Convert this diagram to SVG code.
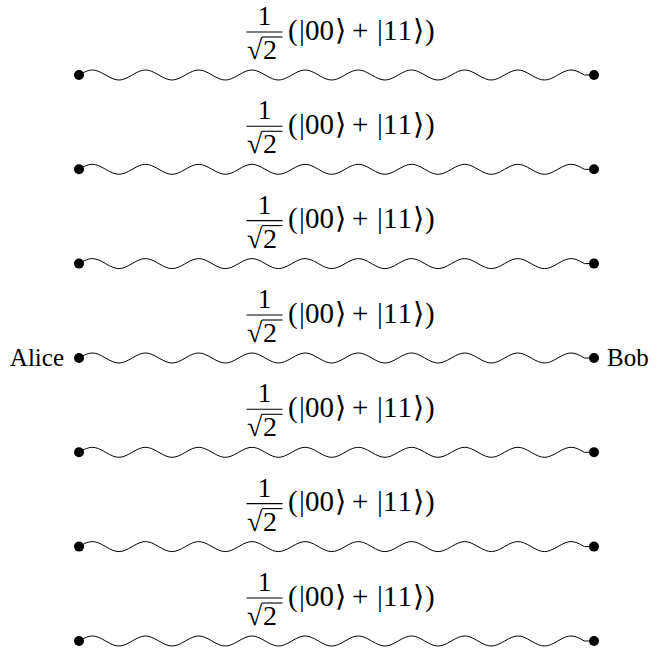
<svg xmlns="http://www.w3.org/2000/svg" xmlns:xlink="http://www.w3.org/1999/xlink" width="657" height="651" viewBox="0 0 657 651">
<style>
  .wave { fill: none; stroke: #000; stroke-width: 1; }
  .dot { fill: #000; stroke: none; }
  .t { font-family: "Liberation Serif", "DejaVu Serif", serif; fill: #000; }
  .m { font-size: 28px; }
  .n { font-size: 27px; }
  .p { font-size: 29px; }
  .name { font-size: 25px; }
  .rule { stroke: #000; stroke-width: 1.1; }
</style>
<defs>
  <path id="wave" class="wave" d="M79,0 c11.29,-6.67 15.31,-6.67 26.6,0 s15.31,6.67 26.6,0 s15.31,-6.67 26.6,0 s15.31,6.67 26.6,0 s15.31,-6.67 26.6,0 s15.31,6.67 26.6,0 s15.31,-6.67 26.6,0 s15.31,6.67 26.6,0 s15.31,-6.67 26.6,0 s15.31,6.67 26.6,0 s15.31,-6.67 26.6,0 s15.31,6.67 26.6,0 s15.31,-6.67 26.6,0 s15.31,6.67 26.6,0 s15.31,-6.67 26.6,0 s15.31,6.67 26.6,0 s15.31,-6.67 26.6,0 s15.31,6.67 26.6,0 s15.31,-6.67 26.6,0 L594,0"/>
</defs>

<g id="connectors">
  <use xlink:href="#wave" href="#wave" transform="translate(0,75)"/>
  <use xlink:href="#wave" href="#wave" transform="translate(0,169.3)"/>
  <use xlink:href="#wave" href="#wave" transform="translate(0,263.6)"/>
  <use xlink:href="#wave" href="#wave" transform="translate(0,358)"/>
  <use xlink:href="#wave" href="#wave" transform="translate(0,452.3)"/>
  <use xlink:href="#wave" href="#wave" transform="translate(0,546.6)"/>
  <use xlink:href="#wave" href="#wave" transform="translate(0,641)"/>

  <g id="label1" transform="translate(0,75)">
    <text class="t n" x="264.5" y="-50" text-anchor="middle">1</text>
    <line class="rule" x1="246.5" y1="-43" x2="282.5" y2="-43"/>
    <text class="t m" x="247" y="-16">√</text>
    <line class="rule" x1="262" y1="-38" x2="282.5" y2="-38"/>
    <text class="t m" x="263" y="-16">2</text>
    <text class="t p" x="288 299 305 319.5 335 345 352 370 377 383 397.5 413 425" y="-35.5">(|00⟩ + |11⟩)</text>
  </g>
  <g id="label2" transform="translate(0,169.3)">
    <text class="t n" x="264.5" y="-50" text-anchor="middle">1</text>
    <line class="rule" x1="246.5" y1="-43" x2="282.5" y2="-43"/>
    <text class="t m" x="247" y="-16">√</text>
    <line class="rule" x1="262" y1="-38" x2="282.5" y2="-38"/>
    <text class="t m" x="263" y="-16">2</text>
    <text class="t p" x="288 299 305 319.5 335 345 352 370 377 383 397.5 413 425" y="-35.5">(|00⟩ + |11⟩)</text>
  </g>
  <g id="label3" transform="translate(0,263.6)">
    <text class="t n" x="264.5" y="-50" text-anchor="middle">1</text>
    <line class="rule" x1="246.5" y1="-43" x2="282.5" y2="-43"/>
    <text class="t m" x="247" y="-16">√</text>
    <line class="rule" x1="262" y1="-38" x2="282.5" y2="-38"/>
    <text class="t m" x="263" y="-16">2</text>
    <text class="t p" x="288 299 305 319.5 335 345 352 370 377 383 397.5 413 425" y="-35.5">(|00⟩ + |11⟩)</text>
  </g>
  <g id="label4" transform="translate(0,358)">
    <text class="t n" x="264.5" y="-50" text-anchor="middle">1</text>
    <line class="rule" x1="246.5" y1="-43" x2="282.5" y2="-43"/>
    <text class="t m" x="247" y="-16">√</text>
    <line class="rule" x1="262" y1="-38" x2="282.5" y2="-38"/>
    <text class="t m" x="263" y="-16">2</text>
    <text class="t p" x="288 299 305 319.5 335 345 352 370 377 383 397.5 413 425" y="-35.5">(|00⟩ + |11⟩)</text>
  </g>
  <g id="label5" transform="translate(0,452.3)">
    <text class="t n" x="264.5" y="-50" text-anchor="middle">1</text>
    <line class="rule" x1="246.5" y1="-43" x2="282.5" y2="-43"/>
    <text class="t m" x="247" y="-16">√</text>
    <line class="rule" x1="262" y1="-38" x2="282.5" y2="-38"/>
    <text class="t m" x="263" y="-16">2</text>
    <text class="t p" x="288 299 305 319.5 335 345 352 370 377 383 397.5 413 425" y="-35.5">(|00⟩ + |11⟩)</text>
  </g>
  <g id="label6" transform="translate(0,546.6)">
    <text class="t n" x="264.5" y="-50" text-anchor="middle">1</text>
    <line class="rule" x1="246.5" y1="-43" x2="282.5" y2="-43"/>
    <text class="t m" x="247" y="-16">√</text>
    <line class="rule" x1="262" y1="-38" x2="282.5" y2="-38"/>
    <text class="t m" x="263" y="-16">2</text>
    <text class="t p" x="288 299 305 319.5 335 345 352 370 377 383 397.5 413 425" y="-35.5">(|00⟩ + |11⟩)</text>
  </g>
  <g id="label7" transform="translate(0,641)">
    <text class="t n" x="264.5" y="-50" text-anchor="middle">1</text>
    <line class="rule" x1="246.5" y1="-43" x2="282.5" y2="-43"/>
    <text class="t m" x="247" y="-16">√</text>
    <line class="rule" x1="262" y1="-38" x2="282.5" y2="-38"/>
    <text class="t m" x="263" y="-16">2</text>
    <text class="t p" x="288 299 305 319.5 335 345 352 370 377 383 397.5 413 425" y="-35.5">(|00⟩ + |11⟩)</text>
  </g>
</g>

<g id="left-nodes">
  <g id="a1"><circle class="dot" cx="79" cy="75" r="5"/></g>
  <g id="a2"><circle class="dot" cx="79" cy="169.3" r="5"/></g>
  <g id="a3"><circle class="dot" cx="79" cy="263.6" r="5"/></g>
  <g id="alice"><circle class="dot" cx="79" cy="358" r="5"/><text class="t name" x="64" y="366" text-anchor="end">Alice</text></g>
  <g id="a5"><circle class="dot" cx="79" cy="452.3" r="5"/></g>
  <g id="a6"><circle class="dot" cx="79" cy="546.6" r="5"/></g>
  <g id="a7"><circle class="dot" cx="79" cy="641" r="5"/></g>
</g>
<g id="right-nodes">
  <g id="b1"><circle class="dot" cx="594" cy="75" r="5"/></g>
  <g id="b2"><circle class="dot" cx="594" cy="169.3" r="5"/></g>
  <g id="b3"><circle class="dot" cx="594" cy="263.6" r="5"/></g>
  <g id="bob"><circle class="dot" cx="594" cy="358" r="5"/><text class="t name" x="607" y="366">Bob</text></g>
  <g id="b5"><circle class="dot" cx="594" cy="452.3" r="5"/></g>
  <g id="b6"><circle class="dot" cx="594" cy="546.6" r="5"/></g>
  <g id="b7"><circle class="dot" cx="594" cy="641" r="5"/></g>
</g>
</svg>
